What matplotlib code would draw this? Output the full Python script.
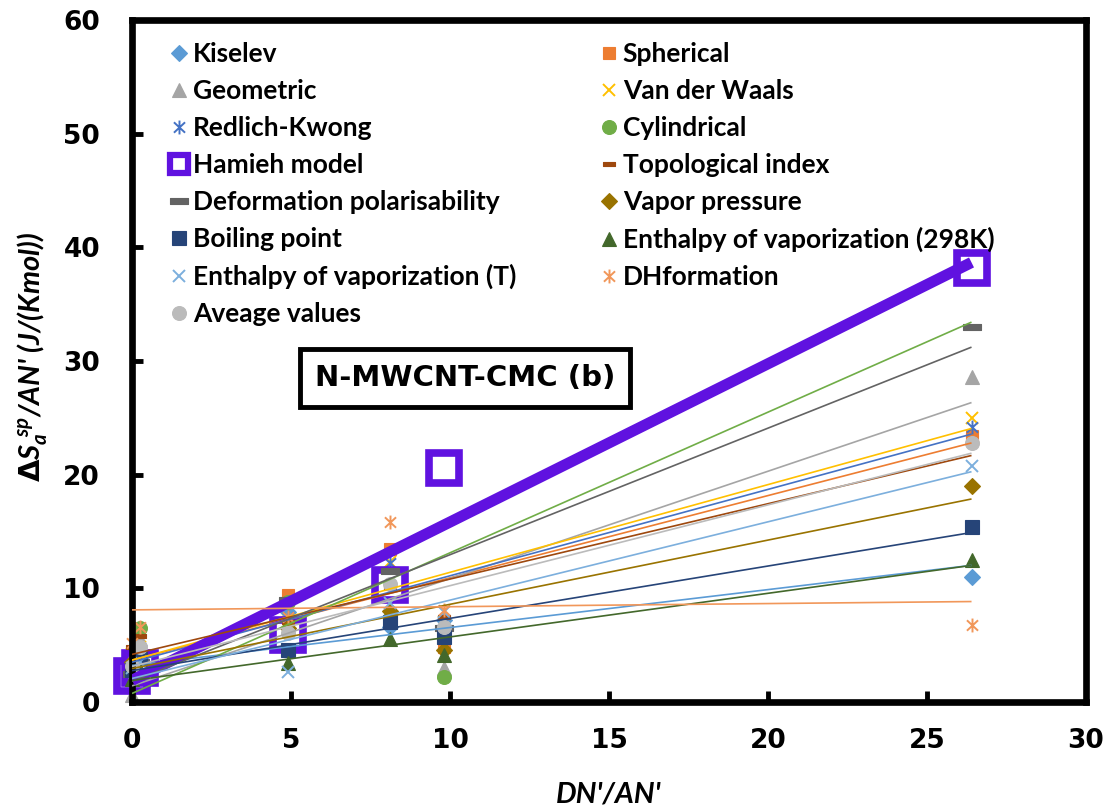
import numpy as np
import matplotlib
matplotlib.use("Agg")
import matplotlib.pyplot as plt
from matplotlib.path import Path
from matplotlib.lines import Line2D

plt.rcParams["mathtext.fontset"] = "custom"
plt.rcParams["mathtext.rm"] = "DejaVu Sans:bold"
plt.rcParams["mathtext.it"] = "Lato:italic:bold"
plt.rcParams["mathtext.bf"] = "Lato:bold"

# DN'/AN' of the polar probes
x_vals = [0.0, 0.25, 4.9, 8.1, 9.8, 26.4]

# Specific entropy / AN' for each model (J/(K mol))
kiselev = [1.5, 1.6, 7.9, 6.6, 7.2, 11.0]
spherical = [3.2, 3.6, 9.4, 13.5, 4.8, 23.4]
geometric = [0.6, 5.5, 7.5, 10.0, 3.0, 28.6]
van_der_waals = [4.2, 4.8, 7.0, 12.3, 7.0, 25.0]
redlich_kwong = [3.5, 4.2, 7.5, 12.2, 7.0, 24.2]
cylindrical = [2.8, 6.5, 8.8, 7.4, 2.2, 38.0]
hamieh = [2.3, 3.0, 5.9, 10.3, 20.6, 38.2]
topological = [4.8, 5.8, 7.0, 10.0, 7.5, 22.8]
deformation = [2.5, 3.5, 9.0, 11.5, 6.5, 33.0]
vapor_pressure = [3.5, 4.0, 6.5, 8.0, 4.6, 19.0]
boiling_point = [2.8, 3.8, 4.6, 7.0, 5.7, 15.4]
enthalpy_298 = [2.0, 2.8, 3.4, 5.5, 4.1, 12.5]
enthalpy_t = [3.0, 3.5, 2.6, 8.7, 7.9, 20.8]
dh_formation = [5.2, 6.6, 7.5, 15.8, 8.1, 6.8]
average = [3.2, 4.8, 6.1, 10.4, 6.6, 22.8]

labels = ["Kiselev", "Spherical", "Geometric", "Van der Waals", "Redlich-Kwong",
          "Cylindrical", "Hamieh model", "Topological index",
          "Deformation polarisability", "Vapor pressure", "Boiling point",
          "Enthalpy of vaporization (298K)", "Enthalpy of vaporization (T)",
          "DHformation", "Aveage values"]
series = [kiselev, spherical, geometric, van_der_waals, redlich_kwong, cylindrical,
          hamieh, topological, deformation, vapor_pressure, boiling_point,
          enthalpy_298, enthalpy_t, dh_formation, average]
colors = ["#5B9BD5", "#ED7D31", "#A5A5A5", "#FFC000", "#4472C4", "#70AD47",
          "#6012E0", "#9E480E", "#636363", "#997300", "#264478", "#43682B",
          "#7CAFDD", "#F1975A", "#BBBBBB"]

# marker shapes
asterisk = Path([(0, -1), (0, 1), (-0.8, -0.75), (0.8, 0.75), (-0.8, 0.75), (0.8, -0.75)],
                [Path.MOVETO, Path.LINETO] * 3)
dash = Path([(-1, -0.28), (1, -0.28), (1, 0.28), (-1, 0.28), (-1, -0.28)],
            [Path.MOVETO, Path.LINETO, Path.LINETO, Path.LINETO, Path.CLOSEPOLY])

styles = [
    dict(marker="D", ms=8.5),
    dict(marker="s", ms=8.5),
    dict(marker="^", ms=10),
    dict(marker="x", ms=9, mew=1.4, filled=False),
    dict(marker=asterisk, ms=10, mew=1.4, filled=False),
    dict(marker="o", ms=10),
    dict(marker="s", ms=21, mew=5.5, hollow=True),
    dict(marker=dash, ms=8),
    dict(marker=dash, ms=13),
    dict(marker="D", ms=8.5),
    dict(marker="s", ms=9.5),
    dict(marker="^", ms=10),
    dict(marker="x", ms=9, mew=1.4, filled=False),
    dict(marker=asterisk, ms=10, mew=1.4, filled=False),
    dict(marker="o", ms=10),
]

W, H = 1106, 809
fig = plt.figure(figsize=(W / 100, H / 100), dpi=100)
ax = fig.add_axes([132 / W, 1 - 702 / H, 954 / W, 682 / H])

handles = []
xs = np.array(x_vals)
for i, (ys, lab, col, st) in enumerate(zip(series, labels, colors, styles)):
    ys = np.array(ys)
    kw = dict(linestyle="none", marker=st["marker"], markersize=st["ms"], clip_on=False,
              zorder=2 + i * 0.01)
    if st.get("hollow"):
        kw.update(markerfacecolor="white", markeredgecolor=col, markeredgewidth=st["mew"])
    elif st.get("filled", True) is False:
        kw.update(color=col, markeredgewidth=st["mew"])
    else:
        kw.update(markerfacecolor=col, markeredgecolor=col, markeredgewidth=0.8)
    ax.plot(xs, ys, **kw)

    # linear trendline over the data range
    slope, icpt = np.polyfit(xs, ys, 1)
    xl = np.array([xs.min(), xs.max()])
    lw = 8 if i == 6 else 1.2
    ax.plot(xl, icpt + slope * xl, color=col, lw=lw, solid_capstyle="butt",
            zorder=3 + i * 0.01)

    hkw = dict(kw)
    hkw.pop("clip_on")
    hkw.pop("zorder")
    if st.get("hollow"):
        hkw.update(markersize=13, markeredgewidth=4.5)
    handles.append(Line2D([], [], label=lab, **hkw))

ax.set_xlim(0, 30)
ax.set_ylim(0, 60)
ax.set_xticks(np.arange(0, 31, 5))
ax.set_yticks(np.arange(0, 61, 10))
for s in ax.spines.values():
    s.set_linewidth(4.8)
    s.set_color("black")
ax.tick_params(direction="in", length=8, width=3.5)
ax.tick_params(axis="x", pad=19)
ax.tick_params(axis="y", pad=23)
for t in ax.get_xticklabels() + ax.get_yticklabels():
    t.set_fontfamily("DejaVu Sans")
    t.set_fontweight("bold")
    t.set_fontsize(19)

fig.text(609 / W, 1 - 795 / H, "DN'/AN'", ha="center", va="center", fontfamily="Lato",
         fontweight="bold", fontstyle="italic", fontsize=21)
fig.text(33 / W, 1 - 357 / H, r"$\Delta S_a^{\ sp}$/AN' (J/(Kmol))", ha="center",
         va="center", rotation=90, fontfamily="Lato", fontweight="bold",
         fontstyle="italic", fontsize=21)

leg_kw = dict(frameon=False, handlelength=0.6, handletextpad=0.22, borderpad=0,
              labelspacing=0.49, prop=dict(family="Lato", weight="bold", size=19),
              loc="upper left")
col1 = [handles[i] for i in (0, 2, 4, 6, 8, 10, 12, 14)]
col2 = [handles[i] for i in (1, 3, 5, 7, 9, 11, 13)]
top = 1 - (29 - 20) / 682
leg1 = ax.legend(handles=col1, bbox_to_anchor=((158 - 132) / 954, top), **leg_kw)
ax.add_artist(leg1)
ax.legend(handles=col2, bbox_to_anchor=((588 - 132) / 954, top), **leg_kw)

ax.text(0.349, 0.475, "N-MWCNT-CMC (b)", transform=ax.transAxes, ha="center", va="center",
        fontfamily="DejaVu Sans", fontweight="bold", fontsize=21,
        bbox=dict(boxstyle="square,pad=0.5", facecolor="white", edgecolor="black",
                  linewidth=3.5), zorder=5)

fig.savefig("out.png", dpi=100)
